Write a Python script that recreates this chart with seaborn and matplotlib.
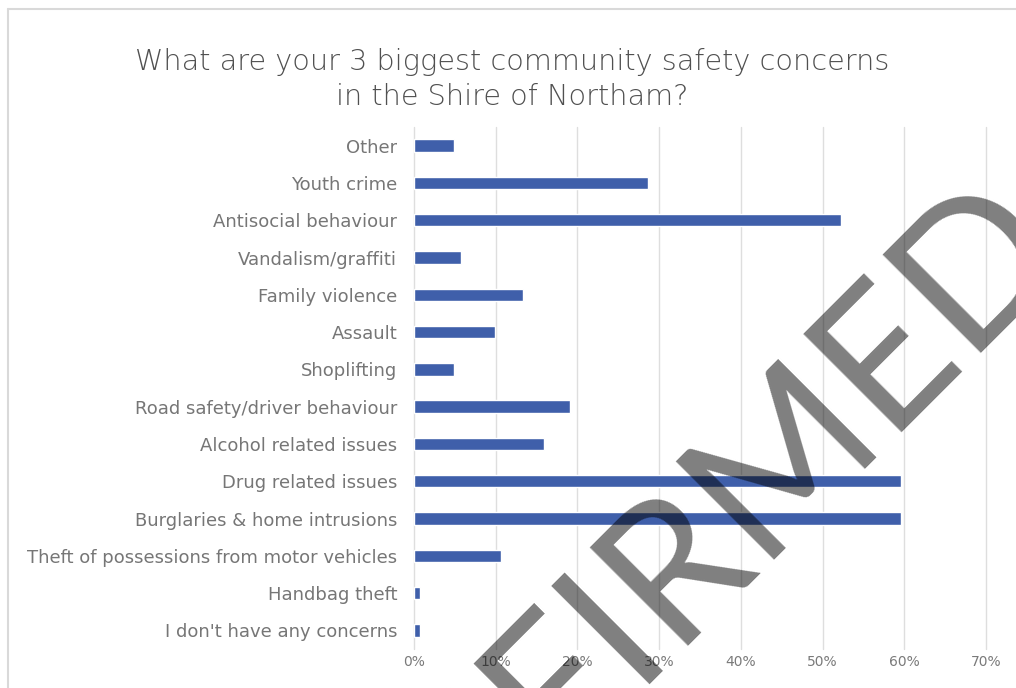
import matplotlib
matplotlib.use("Agg")
import numpy as np
import matplotlib.pyplot as plt
import seaborn as sns
import pandas as pd
from matplotlib.lines import Line2D
from matplotlib.ticker import FuncFormatter
from matplotlib.font_manager import FontProperties

categories = [
    "Other",
    "Youth crime",
    "Antisocial behaviour",
    "Vandalism/graffiti",
    "Family violence",
    "Assault",
    "Shoplifting",
    "Road safety/driver behaviour",
    "Alcohol related issues",
    "Drug related issues",
    "Burglaries & home intrusions",
    "Theft of possessions from motor vehicles",
    "Handbag theft",
    "I don't have any concerns",
]
values = [0.049, 0.286, 0.523, 0.058, 0.134, 0.099, 0.049,
          0.191, 0.159, 0.596, 0.596, 0.107, 0.007, 0.007]
xticks = [0.0, 0.1, 0.2, 0.3, 0.4, 0.5, 0.6, 0.7]

title_lines = ["What are your 3 biggest community safety concerns",
               "in the Shire of Northam?"]
watermark = "CONFIRMED"

sns.set_theme(style="white")
plt.rcParams["font.family"] = ["DejaVu Sans"]

W, H = 1016, 688
DPI = 100
fig = plt.figure(figsize=(W / DPI, H / DPI), dpi=DPI)
fig.patch.set_facecolor("white")
renderer = fig.canvas.get_renderer()


def text_w(s, family, size, weight="normal"):
    fp = FontProperties(family=family, size=size, weight=weight)
    w, h, d = renderer.get_text_width_height_descent(s, fp, ismath=False)
    return w


def fit_size(s, target_px, family, weight="normal"):
    w10 = text_w(s, family, 10, weight)
    return 10 * target_px / w10


# sizes fitted to reference text widths
title_fs = fit_size(title_lines[0], 758, "DejaVu Sans", "light")
tick_fs = fit_size(categories[11], 370, "DejaVu Sans")

ax = fig.add_axes([414 / W, 1 - 649 / H, 572 / W, 522 / H])
df = pd.DataFrame({"cat": categories, "val": values})
sns.barplot(data=df, x="val", y="cat", orient="h", color="#3F5FAA",
            saturation=1, width=0.33, ax=ax, zorder=3)

ax.set_xlim(0, 0.7)
ax.set_xticks(xticks)
ax.xaxis.set_major_formatter(FuncFormatter(lambda v, p: f"{v*100:.0f}%"))
ax.set_xlabel("")
ax.set_ylabel("")
for s in ax.spines.values():
    s.set_visible(False)
ax.grid(axis="x", color="#dedede", linewidth=1.0, zorder=0)
ax.grid(axis="y", visible=False)
for gl in ax.get_xgridlines():
    gl.set_clip_on(False)
ax.tick_params(axis="x", length=0, pad=4, labelsize=10, labelcolor="#7a7a7a")
ax.tick_params(axis="y", length=0, pad=12, labelsize=tick_fs, labelcolor="#767676")

fig.text(512 / W, 1 - 62 / H, title_lines[0], ha="center", va="center",
         fontsize=title_fs, color="#505050", fontweight="light")
fig.text(512 / W, 1 - 97 / H, title_lines[1], ha="center", va="center",
         fontsize=title_fs, color="#505050", fontweight="light")

# chart border
fig.add_artist(Line2D([8 / W, 1.0], [1 - 9 / H, 1 - 9 / H], transform=fig.transFigure,
                      color="#d9d9d9", linewidth=1.5))
fig.add_artist(Line2D([8 / W, 8 / W], [1 - 9 / H, 0.0], transform=fig.transFigure,
                      color="#d9d9d9", linewidth=1.5))

# watermark: fit so that the stems of "I" and "D" land where they are in the reference
wm_family = "Lato"
pre_I = watermark[:watermark.index("I")]
pre_D = watermark[:watermark.index("D")]
w_pre_I = text_w(pre_I, wm_family, 100)
w_I = text_w("I", wm_family, 100)
w_pre_D = text_w(pre_D, wm_family, 100)
sI = w_pre_I + w_I / 2
sD = w_pre_D + 0.14 * 100 * DPI / 72
target_dist = 469.0
wm_fs = 100 * target_dist / (sD - sI)
scale = wm_fs / 100
sI *= scale
cap_px = 0.72 * wm_fs * DPI / 72
u = np.array([np.sqrt(0.5), -np.sqrt(0.5)])   # baseline direction (image coords, y down)
v = np.array([-np.sqrt(0.5), -np.sqrt(0.5)])  # letter up direction
I_mid = np.array([606.0, 620.0])
P0 = I_mid - u * sI - v * cap_px / 2
fig.text(P0[0] / W, 1 - P0[1] / H, watermark, rotation=45, rotation_mode="anchor",
         ha="left", va="baseline", fontsize=wm_fs, family=wm_family,
         color="black", alpha=0.5, zorder=20)

fig.savefig("out.png", dpi=DPI)
